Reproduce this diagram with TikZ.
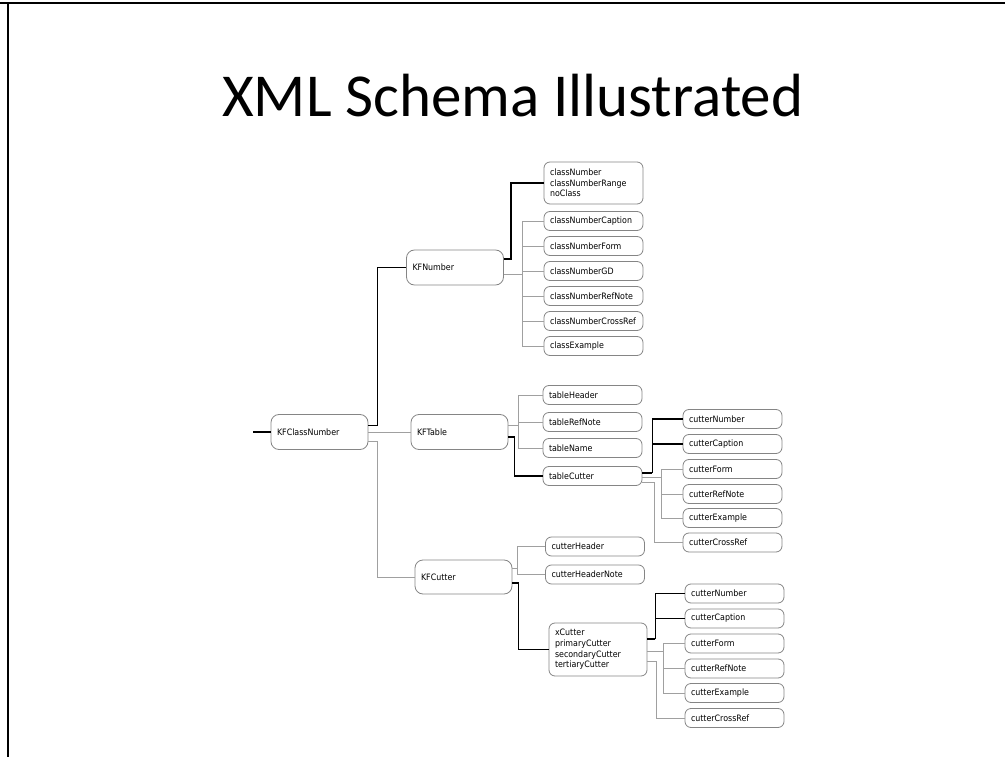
\documentclass[tikz,border=0pt]{standalone}
\usepackage{fontspec}
\setmainfont{Liberation Sans}
\newfontfamily\titlefont{Carlito}
\newfontfamily\lblfont[FakeStretch=0.9]{DejaVu Sans}
\usetikzlibrary{calc}
\definecolor{boxgray}{HTML}{858585}
\definecolor{linegray}{HTML}{A0A0A0}
\begin{document}
\begin{tikzpicture}[x=1pt,y=-1pt,
  bx/.style={draw=boxgray, line width=0.8pt, rounded corners=6pt, inner xsep=6pt, inner ysep=0pt,
    align=left, font=\lblfont\fontsize{8.8pt}{10.7pt}\selectfont},
  kbox/.style={bx, rounded corners=8pt, text width=85pt, minimum height=35pt},
  sbox/.style={bx, text width=87pt, minimum height=19pt},
  bold/.style={line width=1.8pt, black},
  conn/.style={line width=0.9pt, linegray},
  frame/.style={line width=2pt, black}]
\useasboundingbox (0,0) rectangle (1005,757);
% slide frame
\draw[frame] (0,3) -- (1005,3);
\draw[frame] (8,3) -- (8,757);
% title
\node[anchor=base west, inner sep=0pt, font=\titlefont\fontsize{61pt}{61pt}\selectfont] (title) at (222,117) {XML Schema Illustrated};
% main nodes
\node[kbox] (kfc) at (319.5,432) {KFClassNumber};
\node[kbox] (kfn) at (455,267.5) {KFNumber};
\node[kbox] (kft) at (459.5,432) {KFTable};
\node[kbox, minimum height=34pt] (kfcu) at (463.5,577) {KFCutter};
% KFNumber children
\node[sbox, minimum height=42pt] (cn) at (593.5,183) {classNumber\\classNumberRange\\noClass};
\node[sbox] (cnc) at (593.5,221) {classNumberCaption};
\node[sbox] (cnf) at (593.5,246) {classNumberForm};
\node[sbox] (cngd) at (593.5,271) {classNumberGD};
\node[sbox] (cnr) at (593.5,296) {classNumberRefNote};
\node[sbox] (cncr) at (593.5,321) {classNumberCrossRef};
\node[sbox] (cex) at (593.5,346) {classExample};
% KFTable children
\node[sbox] (th) at (592.5,395) {tableHeader};
\node[sbox] (trn) at (592.5,422) {tableRefNote};
\node[sbox] (tn) at (592.5,448) {tableName};
\node[sbox] (tc) at (592.5,476) {tableCutter};
% tableCutter children
\node[sbox] (a1) at (732.5,419) {cutterNumber};
\node[sbox] (a2) at (732.5,444) {cutterCaption};
\node[sbox] (a3) at (732.5,469) {cutterForm};
\node[sbox] (a4) at (732.5,494) {cutterRefNote};
\node[sbox] (a5) at (732.5,518) {cutterExample};
\node[sbox] (a6) at (732.5,542.5) {cutterCrossRef};
% KFCutter children
\node[sbox] (ch) at (595,546.5) {cutterHeader};
\node[sbox] (chn) at (595,574.5) {cutterHeaderNote};
\node[bx, text width=86pt, minimum height=53pt] (xc) at (598,649.5) {xCutter\\primaryCutter\\secondaryCutter\\tertiaryCutter};
% xCutter children
\node[sbox] (b1) at (734.5,593.5) {cutterNumber};
\node[sbox] (b2) at (734.5,618.5) {cutterCaption};
\node[sbox] (b3) at (734.5,643.5) {cutterForm};
\node[sbox] (b4) at (734.5,668.5) {cutterRefNote};
\node[sbox] (b5) at (734.5,693) {cutterExample};
\node[sbox] (b6) at (734.5,718) {cutterCrossRef};
% connectors
\coordinate (in) at (253,432);
\draw[bold] (in) -- (kfc.west);
\draw[bold] ([yshift=6.5pt]kfc.east) -- ++(9,0) |- (kfn.west);
\draw[conn] (kfc.east) -- (kft.west);
\draw[conn] ([yshift=-9pt]kfc.east) -- ++(9,0) |- (kfcu.west);
% KFNumber
\draw[bold] ([yshift=8.5pt]kfn.east) -- ++(7,0) |- (cn.west);
\coordinate (jn) at ([xshift=19pt,yshift=-6.5pt]kfn.east);
\draw[conn] ([yshift=-6.5pt]kfn.east) -- (jn);
\foreach \n in {cnc,cnf,cngd,cnr,cncr,cex} \draw[conn] (jn) |- (\n.west);
% KFTable
\coordinate (jt) at ([xshift=10pt,yshift=7pt]kft.east);
\draw[conn] ([yshift=7pt]kft.east) -- (jt);
\foreach \n in {th,trn,tn} \draw[conn] (jt) |- (\n.west);
\draw[bold] ([yshift=-5pt]kft.east) -- ++(6,0) |- (tc.west);
% tableCutter
\coordinate (jtc1) at ([xshift=10pt,yshift=3pt]tc.east);
\draw[bold] ([yshift=3pt]tc.east) -- (jtc1);
\foreach \n in {a1,a2} \draw[bold] (jtc1) |- (\n.west);
\coordinate (jtc2) at ([xshift=19pt,yshift=-1pt]tc.east);
\draw[conn] ([yshift=-1pt]tc.east) -- (jtc2);
\foreach \n in {a3,a4,a5} \draw[conn] (jtc2) |- (\n.west);
\draw[conn] ([yshift=-6pt]tc.east) -- ++(12,0) |- (a6.west);
% KFCutter
\coordinate (jc) at ([xshift=5pt,yshift=9pt]kfcu.east);
\draw[conn] ([yshift=9pt]kfcu.east) -- (jc);
\foreach \n in {ch,chn} \draw[conn] (jc) |- (\n.west);
\draw[bold] ([yshift=-6pt]kfcu.east) -- ++(6,0) |- (xc.west);
% xCutter
\coordinate (jx1) at ([xshift=8pt,yshift=10.5pt]xc.east);
\draw[bold] ([yshift=10.5pt]xc.east) -- (jx1);
\foreach \n in {b1,b2} \draw[bold] (jx1) |- (\n.west);
\coordinate (jx2) at ([xshift=16pt,yshift=-1.5pt]xc.east);
\draw[conn] ([yshift=-1.5pt]xc.east) -- (jx2);
\foreach \n in {b3,b4,b5} \draw[conn] (jx2) |- (\n.west);
\draw[conn] ([yshift=-11.5pt]xc.east) -- ++(9,0) |- (b6.west);
\end{tikzpicture}
\end{document}
